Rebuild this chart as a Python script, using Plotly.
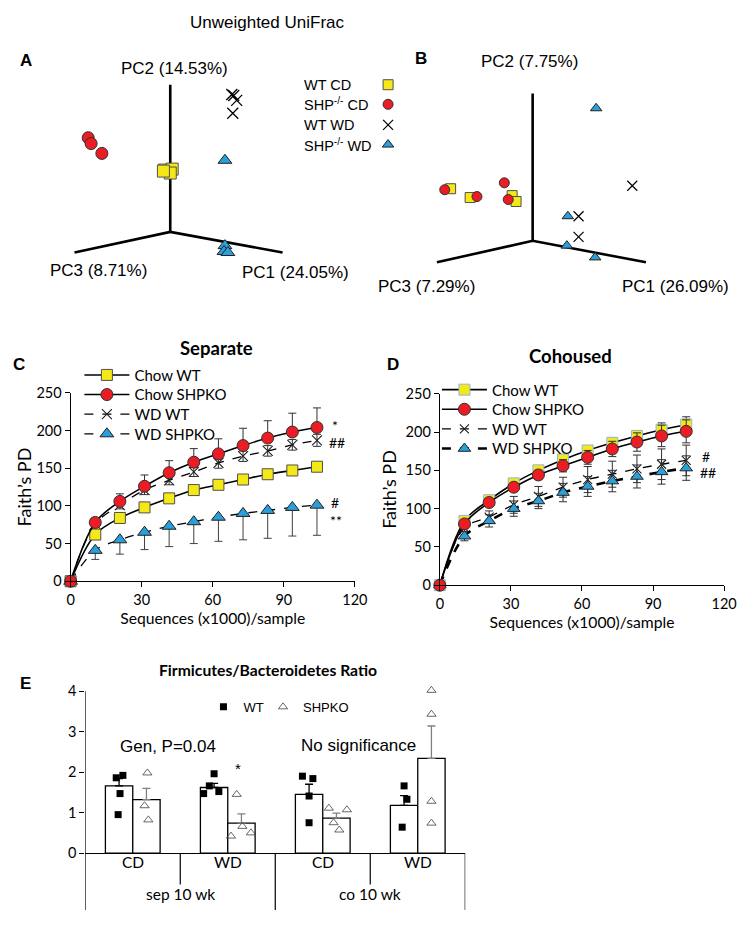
import plotly.graph_objects as go

# The page body keeps the browser's default 8 px margin, so the figure is made
# 16 px smaller and every reference pixel position is shifted by that margin.
PAGE_W, PAGE_H, OFF = 750, 926, 8
FW, FH = PAGE_W - 2 * OFF, PAGE_H - 2 * OFF
def PX(x): return min(max((x - OFF) / FW, 0), 1)
def PY(y): return min(max(1 - (y - OFF) / FH, 0), 1)

F_CAL = "Lato, sans-serif"
F_ARI = "Liberation Sans, Arial, sans-serif"
YELLOW = "#F4E817"
RED = "#EC1C24"
BLUE = "#2B9FD9"

# ---------------- DATA ----------------
# Panel A (projected PCoA coordinates, separate housing)
a_wt_cd_u = [-0.06, 0.02, 0.00, -0.07]
a_wt_cd_v = [0.63, 0.64, 0.60, 0.62]
a_ko_cd_u = [-0.84, -0.81, -0.70]
a_ko_cd_v = [0.96, 0.90, 0.80]
a_wt_wd_u = [0.63, 0.68, 0.64, 0.65]
a_wt_wd_v = [1.40, 1.34, 1.21, 1.39]
a_ko_wd_u = [0.56, 0.56, 0.55, 0.59]
a_ko_wd_v = [0.73, -0.14, -0.20, -0.21]
a_axis_tips = {"PC1": (1.15, -0.21), "PC2": (0.0, 1.50), "PC3": (-0.98, -0.21)}

# Panel B (projected PCoA coordinates, cohoused)
b_wt_cd_u = [-0.84, -0.64, -0.21, -0.17]
b_wt_cd_v = [0.53, 0.44, 0.46, 0.40]
b_ko_cd_u = [-0.90, -0.57, -0.29, -0.25]
b_ko_cd_v = [0.52, 0.45, 0.59, 0.42]
b_wt_wd_u = [1.02, 0.47, 0.47]
b_wt_wd_v = [0.56, 0.25, 0.04]
b_ko_wd_u = [0.65, 0.36, 0.35, 0.64]
b_ko_wd_v = [1.35, 0.25, -0.05, -0.17]
b_axis_tips = {"PC1": (1.16, -0.22), "PC2": (0.0, 1.50), "PC3": (-0.98, -0.22)}

pcoa_groups = ["WT CD", "SHP<sup>-/-</sup> CD", "WT WD", "SHP<sup>-/-</sup> WD"]

# Panels C/D rarefaction
seq_k = [0, 10.4, 20.8, 31.2, 41.6, 52.0, 62.4, 72.8, 83.2, 93.6, 104.0]
sep_chow_wt = [0, 62, 84, 98, 110, 121, 128, 135, 142, 147, 152]
sep_chow_wt_err = [0, 3, 3, 3, 3, 3, 4, 4, 4, 4, 5]
sep_chow_ko = [0, 78, 106, 126, 144, 158, 169, 180, 190, 198, 204]
sep_chow_ko_err = [0, 6, 10, 15, 16, 18, 20, 23, 23, 25, 26]
sep_wd_wt = [0, 76, 101, 121, 134, 145, 157, 166, 173, 181, 187]
sep_wd_wt_err = [0, 3, 5, 6, 6, 6, 7, 7, 7, 7, 8]
sep_wd_ko = [0, 41, 55, 65, 73, 79, 85, 90, 94, 98, 101]
sep_wd_ko_err = [0, 12, 19, 23, 27, 29, 32, 35, 37, 38, 40]

coh_chow_wt = [0, 84, 111, 133, 150, 164, 176, 186, 195, 203, 210]
coh_chow_wt_err = [0, 3, 5, 5, 4, 5, 6, 6, 7, 9, 10]
coh_chow_ko = [0, 80, 108, 128, 144, 156, 167, 178, 187, 195, 201]
coh_chow_ko_err = [0, 3, 4, 5, 6, 8, 9, 10, 12, 14, 15]
coh_wd_wt = [0, 75, 89, 105, 116, 128, 138, 145, 152, 158, 163]
coh_wd_wt_err = [0, 5, 8, 11, 13, 13, 17, 17, 18, 20, 20]
coh_wd_ko = [0, 64, 84, 100, 110, 121, 129, 136, 142, 148, 153]
coh_wd_ko_err = [0, 6, 8, 10, 10, 12, 13, 14, 15, 16, 16]

x_ticks = [0, 30, 60, 90, 120]
y_ticks = [0, 50, 100, 150, 200, 250]

# Panel E
diet = ["CD", "WD", "CD", "WD"]
housing = ["sep 10 wk", "co 10 wk"]
wt_mean = [1.66, 1.62, 1.45, 1.18]
wt_sem = [0.18, 0.10, 0.25, 0.24]
ko_mean = [1.32, 0.74, 0.865, 2.34]
ko_sem = [0.28, 0.23, 0.12, 0.80]
wt_points = [[1.86, 1.92, 1.47, 0.95], [1.96, 1.66, 1.47, 1.52], [1.90, 1.84, 1.41, 0.75], [1.66, 1.33, 0.64]]
ko_points = [[1.98, 1.17, 0.82], [1.45, 0.66, 0.42, 0.50], [1.11, 1.07, 0.75, 0.57], [4.02, 3.43, 1.28, 0.74]]
e_yticks = [0, 1, 2, 3, 4]

# ---------------- STYLE CONSTANTS ----------------
wt_jitter = [[-0.03, 0.04, 0.01, -0.01], [0.0, -0.05, -0.11, 0.05], [-0.07, 0.04, 0.0, 0.0], [0.0, 0.03, -0.02]]
ko_jitter = [[0.01, -0.02, 0.02], [-0.05, 0.01, -0.11, 0.10], [-0.08, 0.11, -0.03, 0.03], [0.0, 0.0, 0.0, 0.0]]
BAR_W = 0.288
E_TOP = 4.06  # small headroom so the highest point is not dropped
LEG_FONT = dict(family=F_CAL, size=15, color="black")

fig = go.Figure()

def mk(sym, size, color, lc="#303030", lw=1):
    return dict(symbol=sym, size=size, color=color, line=dict(color=lc, width=lw))

def pcoa(xa, ya, tips, groups, styles):
    xs = [tips["PC3"][0], 0, tips["PC1"][0], None, 0, tips["PC2"][0]]
    ys = [tips["PC3"][1], 0, tips["PC1"][1], None, 0, tips["PC2"][1]]
    fig.add_trace(go.Scatter(x=xs, y=ys, mode="lines", line=dict(color="black", width=2.6),
                             xaxis=xa, yaxis=ya, showlegend=False, hoverinfo="skip"))
    for (u, v), st in zip(groups, styles):
        fig.add_trace(go.Scatter(x=u, y=v, mode="markers", marker=st, xaxis=xa, yaxis=ya,
                                 showlegend=False, cliponaxis=False))

a_styles = [mk("square", 12, YELLOW, "#505050"), mk("circle", 12, RED),
            mk("x-thin", 11, "black", "black", 1.3), mk("triangle-up", 12, BLUE, "#202020")]
b_styles = [mk("square", 10, YELLOW, "#505050"), mk("circle", 10, RED),
            mk("x-thin", 10, "black", "black", 1.2), mk("triangle-up", 10, BLUE, "#202020")]
pcoa("x", "y", a_axis_tips, [(a_wt_cd_u, a_wt_cd_v), (a_ko_cd_u, a_ko_cd_v), (a_wt_wd_u, a_wt_wd_v), (a_ko_wd_u, a_ko_wd_v)], a_styles)
pcoa("x2", "y2", b_axis_tips, [(b_wt_cd_u, b_wt_cd_v), (b_ko_cd_u, b_ko_cd_v), (b_wt_wd_u, b_wt_wd_v), (b_ko_wd_u, b_ko_wd_v)], b_styles)

# PCoA legend (text + marker column)
leg_rows_px = [77, 97, 118, 138]
for g, ypx, st in zip(pcoa_groups, leg_rows_px, b_styles):
    fig.add_annotation(text=g, x=PX(305), y=PY(ypx), xref="paper", yref="paper", showarrow=False,
                       xanchor="left", yanchor="middle", font=dict(family=F_ARI, size=14.5, color="black"))
    fig.add_trace(go.Scatter(x=[(393 - 170) / 100], y=[(227 - ypx) / 100], mode="markers", marker=st,
                             xaxis="x", yaxis="y", showlegend=False, cliponaxis=False, hoverinfo="skip"))

# Rarefaction curves
def curve(xa, ya, y, err, name, marker, dash, width, legend, plus_only=False, minus_only=False, ecolor="#303030"):
    if plus_only:
        ey = dict(type="data", array=err, arrayminus=[0] * len(err), symmetric=False)
    elif minus_only:
        ey = dict(type="data", array=[0] * len(err), arrayminus=err, symmetric=False)
    else:
        ey = dict(type="data", array=err, symmetric=True)
    ey.update(color=ecolor, thickness=1, width=4)
    fig.add_trace(go.Scatter(x=seq_k, y=y, name=name, mode="lines+markers",
                             line=dict(color="black", width=width, dash=dash, shape="spline"),
                             marker=marker, error_y=ey, xaxis=xa, yaxis=ya, legend=legend, cliponaxis=False))

curve("x3", "y3", sep_wd_ko, sep_wd_ko_err, "WD SHPKO", mk("triangle-up", 12, BLUE, "#202020"), "dash", 1.3, "legend6", minus_only=True, ecolor="#404040")
curve("x3", "y3", sep_wd_wt, sep_wd_wt_err, "WD WT", mk("x-thin", 10, "black", "#202020", 1.1), "dash", 1.3, "legend5")
curve("x3", "y3", sep_chow_wt, sep_chow_wt_err, "Chow WT", mk("square", 11, YELLOW, "#505050"), "solid", 1.6, "legend")
curve("x3", "y3", sep_chow_ko, sep_chow_ko_err, "Chow SHPKO", mk("circle", 12, RED), "solid", 1.6, "legend4", plus_only=True)

curve("x4", "y4", coh_wd_wt, coh_wd_wt_err, "WD WT", mk("x-thin", 9, "black", "#202020", 1.1), "dash", 1.3, "legend8")
curve("x4", "y4", coh_wd_ko, coh_wd_ko_err, "WD SHPKO", mk("triangle-up", 11, BLUE, "#202020"), "dash", 2.6, "legend9")
curve("x4", "y4", coh_chow_wt, coh_chow_wt_err, "Chow WT", mk("square", 11, YELLOW, "#8FB4E0"), "solid", 1.6, "legend2")
curve("x4", "y4", coh_chow_ko, coh_chow_ko_err, "Chow SHPKO", mk("circle", 12, RED), "solid", 1.6, "legend7")

# Panel E bars
pos = list(range(len(diet)))
fig.add_trace(go.Bar(x=[p - BAR_W / 2 for p in pos], y=wt_mean, width=BAR_W, marker=dict(color="white", line=dict(color="black", width=1.3)),
                     error_y=dict(type="data", array=wt_sem, arrayminus=[0] * 4, symmetric=False, color="black", thickness=1.3, width=4),
                     xaxis="x5", yaxis="y5", showlegend=False))
fig.add_trace(go.Bar(x=[p + BAR_W / 2 for p in pos], y=ko_mean, width=BAR_W, marker=dict(color="white", line=dict(color="black", width=1.3)),
                     error_y=dict(type="data", array=ko_sem, arrayminus=[0] * 4, symmetric=False, color="#808080", thickness=1.3, width=4),
                     xaxis="x5", yaxis="y5", showlegend=False))
wx, wy, kx, ky = [], [], [], []
for i in pos:
    for v, j in zip(wt_points[i], wt_jitter[i]):
        wx.append(i - BAR_W / 2 + j); wy.append(v)
    for v, j in zip(ko_points[i], ko_jitter[i]):
        kx.append(i + BAR_W / 2 + j); ky.append(v)
fig.add_trace(go.Scatter(x=wx, y=wy, mode="markers", name="WT", marker=dict(symbol="square", size=7, color="black"),
                         xaxis="x5", yaxis="y5", legend="legend3", cliponaxis=False))
fig.add_trace(go.Scatter(x=kx, y=ky, mode="markers", name="SHPKO", marker=dict(symbol="triangle-up-open", size=8, color="#404040", line=dict(width=0.8)),
                         xaxis="x5", yaxis="y5", legend="legend10", cliponaxis=False))

# E category dividers
for xb, ybot in [(-0.5, 926), (0.5, 892), (1.5, 926), (2.5, 892), (3.5, 926)]:
    fig.add_shape(type="line", xref="x5", yref="paper", x0=xb, x1=xb, y0=PY(860), y1=PY(ybot), line=dict(color="black", width=1.2))
fig.add_shape(type="line", xref="x5", yref="y5", x0=-0.5, x1=-0.5, y0=0, y1=4, line=dict(color="black", width=1.2))
for i, d in enumerate(diet):
    fig.add_annotation(text=d, x=i, y=PY(880), xref="x5", yref="paper", showarrow=False, font=dict(family=F_CAL, size=15.5, color="black"))
for i, h in enumerate(housing):
    fig.add_annotation(text=h, x=2 * i + 0.5, y=PY(913), xref="x5", yref="paper", showarrow=False, font=dict(family=F_CAL, size=15.5, color="black"))

# ---------------- LAYOUT ----------------
hidden = dict(visible=False, showgrid=False, zeroline=False, fixedrange=True)
ax_common = dict(showgrid=False, zeroline=False, showline=True, linecolor="black", linewidth=1.2,
                 ticks="outside", ticklen=5, tickcolor="black", tickfont=dict(family=F_CAL, size=14.5, color="black"))
e_y = dict(ax_common); e_y["showline"] = False

def row_legend(xpx, ypx, font=LEG_FONT, iw=45):
    return dict(x=PX(xpx), y=PY(ypx), xanchor="left", yanchor="middle", bgcolor="rgba(0,0,0,0)",
                font=font, itemwidth=iw, tracegroupgap=0)

E_LEG_FONT = dict(family=F_ARI, size=13, color="black")
fig.update_layout(
    width=FW, height=FH, margin=dict(l=0, r=0, t=0, b=0),
    paper_bgcolor="white", plot_bgcolor="white", showlegend=True, barmode="overlay",
    xaxis=dict(domain=[PX(20), PX(400)], range=[-1.5, 2.3], **hidden),
    yaxis=dict(domain=[PY(290), PY(30)], range=[(227 - 290) / 100, (227 - 30) / 100], **hidden),
    xaxis2=dict(domain=[PX(400), PX(740)], range=[(400 - 541) / 100, (740 - 541) / 100], **hidden),
    yaxis2=dict(domain=[PY(290), PY(30)], range=[(236 - 290) / 100, (236 - 30) / 100], **hidden),
    xaxis3=dict(domain=[PX(68), PX(359)], range=[0, 120], tickvals=x_ticks, anchor="y3",
                title=dict(text="Sequences (x1000)/sample", font=dict(family=F_CAL, size=15.7, color="black"), standoff=6), **ax_common),
    yaxis3=dict(domain=[PY(583), PY(391)], range=[0, 250], tickvals=y_ticks, anchor="x3",
                title=dict(text="Faith’s PD", font=dict(family=F_CAL, size=18, color="black"), standoff=0), **ax_common),
    xaxis4=dict(domain=[PX(446), PX(737)], range=[0, 120], tickvals=x_ticks, anchor="y4",
                title=dict(text="Sequences (x1000)/sample", font=dict(family=F_CAL, size=15.7, color="black"), standoff=6), **ax_common),
    yaxis4=dict(domain=[PY(587), PY(392)], range=[0, 250], tickvals=y_ticks, anchor="x4",
                title=dict(text="Faith’s PD", font=dict(family=F_CAL, size=18, color="black"), standoff=4), **ax_common),
    xaxis5=dict(domain=[PX(83), PX(472)], range=[-0.5, 3.5], anchor="y5", showticklabels=False, showgrid=False,
                zeroline=False, showline=True, linecolor="black", linewidth=1.2, ticks=""),
    yaxis5=dict(domain=[PY(860), PY(860 - E_TOP * 41.25)], range=[0, E_TOP], tickvals=e_yticks, anchor="x5", **e_y),
    legend=row_legend(77, 373), legend4=row_legend(77, 393), legend5=row_legend(77, 413), legend6=row_legend(77, 433),
    legend2=row_legend(443, 388), legend7=row_legend(443, 408), legend8=row_legend(443, 428), legend9=row_legend(443, 448),
    legend3=row_legend(204, 711, E_LEG_FONT, 30), legend10=row_legend(265, 711, E_LEG_FONT, 30),
)

def ann(text, x, y, size, family=F_CAL, bold=False, xanchor="center"):
    fig.add_annotation(text=f"<b>{text}</b>" if bold else text, x=PX(x), y=PY(y), xref="paper", yref="paper",
                       showarrow=False, xanchor=xanchor, yanchor="middle", font=dict(family=family, size=size, color="black"))

ann("Unweighted UniFrac", 270, 14, 17, F_ARI)
ann("A", 22, 52, 17, F_ARI, bold=True)
ann("B", 427, 50, 17, F_ARI, bold=True)
ann("PC2 (14.53%)", 174, 60, 17, F_ARI)
ann("PC3 (8.71%)", 97, 266, 17, F_ARI)
ann("PC1 (24.05%)", 298, 268, 17, F_ARI)
ann("PC2 (7.75%)", 538, 53, 17, F_ARI)
ann("PC3 (7.29%)", 432, 283, 17, F_ARI)
ann("PC1 (26.09%)", 687, 283, 17, F_ARI)
ann("C", 15, 362, 17, F_ARI, bold=True)
ann("Separate", 217, 345, 18.5, bold=True)
ann("D", 398, 362, 17, F_ARI, bold=True)
ann("Cohoused", 580, 353, 18.5, bold=True)
ann("*", 339, 424, 14)
ann("##", 341, 442, 14)
ann("#", 339, 503, 14)
ann("**", 340, 521, 14)
ann("#", 718, 456, 14)
ann("##", 721, 472, 14)
ann("E", 22, 687, 17, F_ARI, bold=True)
ann("Firmicutes/Bacteroidetes Ratio", 270, 673, 15.7, bold=True)
ann("Gen, P=0.04", 168, 751, 17, F_ARI)
ann("No significance", 363, 750, 17, F_ARI)
ann("*", 239, 774, 15, F_ARI)

fig.write_html("out.html", config={"displayModeBar": False})
